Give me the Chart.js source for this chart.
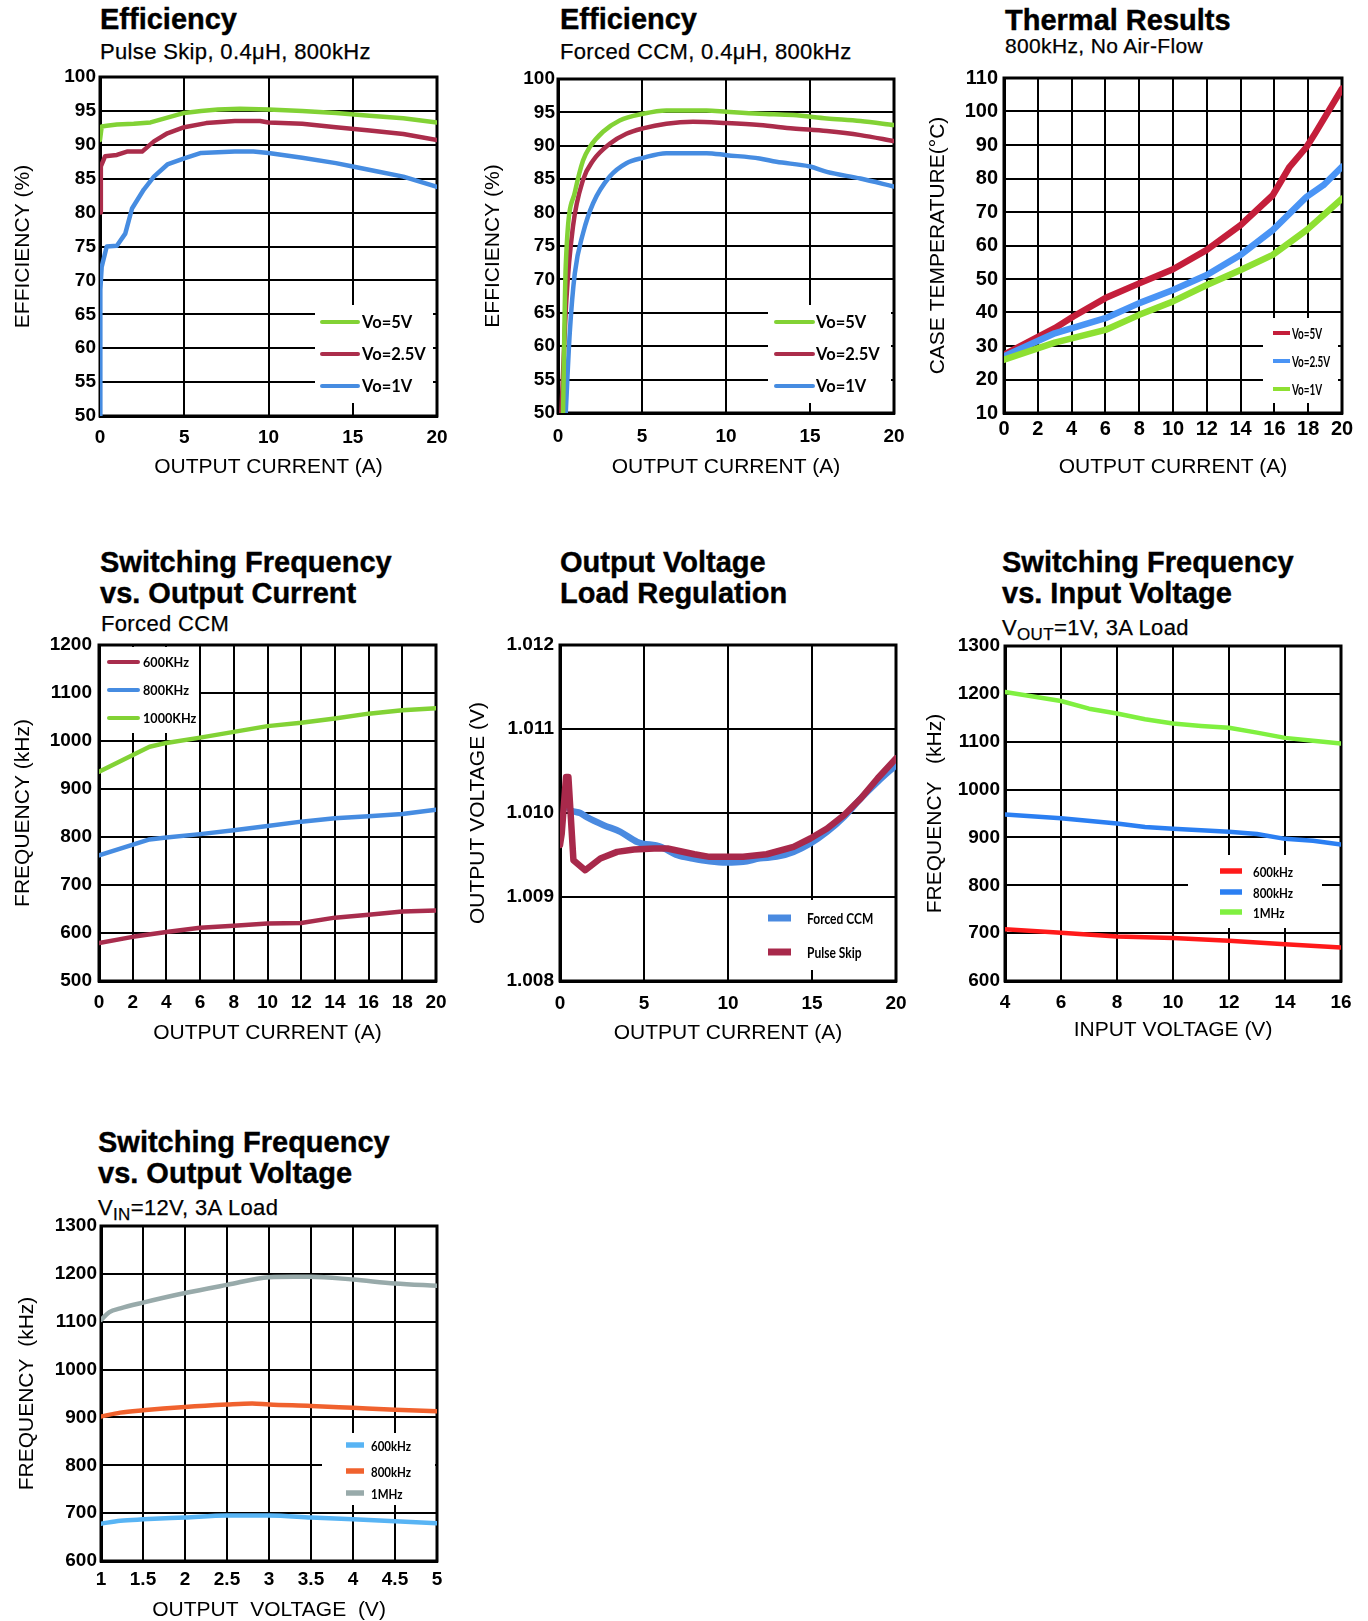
<!DOCTYPE html>
<html>
<head>
<meta charset="utf-8">
<script src="https://cdn.jsdelivr.net/npm/chart.js@4.4.1/dist/chart.umd.min.js"></script>
<style>
  html, body { margin: 0; padding: 0; background: #fff; }
  body { width: 1368px; height: 1621px; position: relative; overflow: hidden;
         font-family: "Liberation Sans", Arial, sans-serif; color: #000; }
  canvas { position: absolute; }
  .t { position: absolute; white-space: nowrap; line-height: 1; }
  .h { font-size: 29px; font-weight: bold; -webkit-text-stroke: 0.4px #000; }
  .s { font-size: 22px; letter-spacing: 0.35px; -webkit-text-stroke: 0.25px #000; }
  .sub { font-size: 17px; position: relative; top: 5px; }
</style>
</head>
<body>
<div class="t h" style="left:100px;top:4.5px">Efficiency</div>
<div class="t s" style="left:100px;top:41.4px">Pulse Skip, 0.4μH, 800kHz</div>
<div class="t h" style="left:560px;top:4.5px">Efficiency</div>
<div class="t s" style="left:560px;top:41.4px">Forced CCM, 0.4μH, 800kHz</div>
<div class="t h" style="left:1005px;top:5.5px">Thermal Results</div>
<div class="t s" style="left:1005px;top:35.2px;font-size:21px">800kHz, No Air-Flow</div>

<div class="t h" style="left:100px;top:547.5px">Switching Frequency</div>
<div class="t h" style="left:100px;top:578.5px">vs. Output Current</div>
<div class="t s" style="left:101px;top:613.4px">Forced CCM</div>
<div class="t h" style="left:560px;top:547.5px">Output Voltage</div>
<div class="t h" style="left:560px;top:578.5px">Load Regulation</div>
<div class="t h" style="left:1002px;top:547.5px">Switching Frequency</div>
<div class="t h" style="left:1002px;top:578.5px">vs. Input Voltage</div>
<div class="t s" style="left:1002px;top:617.4px">V<span class="sub">OUT</span>=1V, 3A Load</div>

<div class="t h" style="left:98px;top:1127.5px">Switching Frequency</div>
<div class="t h" style="left:98px;top:1158.5px">vs. Output Voltage</div>
<div class="t s" style="left:98px;top:1197.4px">V<span class="sub">IN</span>=12V, 3A Load</div>

<script>
// ---------- Efficiency, Pulse Skip (efficiency % vs output current A) ----------
const psXTicks = [0, 5, 10, 15, 20];
const psYTicks = [50, 55, 60, 65, 70, 75, 80, 85, 90, 95, 100];
const ps5V_x  = [0, 0.1, 0.4, 1, 2, 3, 4, 5, 6, 7, 8.3, 10, 12, 14, 16, 18, 20];
const ps5V_y  = [90.7, 92.7, 92.8, 93.0, 93.1, 93.3, 94.0, 94.7, 95.0, 95.2, 95.3, 95.2, 95.0, 94.7, 94.3, 93.9, 93.3];
const ps25V_x = [0, 0.05, 0.3, 1, 1.6, 2.5, 3.2, 4, 5, 6.3, 8, 9.5, 10, 12, 14, 16, 18, 20];
const ps25V_y = [80, 86.8, 88.3, 88.5, 89.0, 89.0, 90.5, 91.7, 92.6, 93.2, 93.5, 93.5, 93.3, 93.1, 92.6, 92.1, 91.6, 90.7];
const ps1V_x  = [0, 0.02, 0.1, 0.4, 1, 1.5, 1.9, 2.6, 3.2, 4, 5, 6, 8, 9.1, 10, 12, 14, 15, 16.4, 18, 20];
const ps1V_y  = [50, 68.6, 72, 75, 75.1, 76.9, 80.6, 83.4, 85.3, 87.1, 88.0, 88.8, 89.0, 89.0, 88.8, 88.1, 87.3, 86.8, 86.1, 85.3, 83.8];

// ---------- Efficiency, Forced CCM ----------
const fcXTicks = [0, 5, 10, 15, 20];
const fcYTicks = [50, 55, 60, 65, 70, 75, 80, 85, 90, 95, 100];
const fc5V_x  = [0.3, 0.46, 1.0, 1.49, 1.89, 2.68, 3.67, 5.06, 6.45, 8.84, 10.04, 12, 14, 16, 18, 20];
const fc5V_y  = [50, 72, 83, 87.8, 89.8, 92.1, 93.8, 94.8, 95.3, 95.3, 95.1, 94.8, 94.6, 94.1, 93.7, 93.1];
const fc25V_x = [0.2, 0.5, 0.89, 1.49, 2.09, 3.08, 4.07, 5.06, 6.45, 8.04, 10.04, 12, 14, 16, 18, 20];
const fc25V_y = [50, 67, 77.9, 84.9, 87.8, 90.3, 91.8, 92.6, 93.3, 93.6, 93.4, 93.1, 92.6, 92.2, 91.6, 90.7];
const fc1V_x  = [0.46, 0.7, 1.0, 1.49, 2.09, 3.08, 4.07, 5.06, 6.45, 8.84, 10.04, 12, 13, 15, 16, 18, 20];
const fc1V_y  = [50, 62, 70.9, 76.9, 81.4, 85.4, 87.4, 88.2, 88.9, 88.9, 88.6, 88.1, 87.6, 86.9, 86.1, 85.1, 83.9];

// ---------- Thermal results (case temperature °C vs output current A) ----------
const thXTicks = [0, 2, 4, 6, 8, 10, 12, 14, 16, 18, 20];
const thYTicks = [10, 20, 30, 40, 50, 60, 70, 80, 90, 100, 110];
const th5V_x  = [0, 3, 4.1, 6, 8, 10, 12, 14, 15.9, 16.9, 17.9, 18.4, 20];
const th5V_y  = [27.4, 35.3, 38.8, 44.3, 48.7, 52.9, 58.7, 66.1, 75.0, 83.5, 89.4, 93.4, 106.8];
const th25V_x = [0, 3, 6, 8, 10, 12, 14, 15.9, 17.9, 18.9, 20];
const th25V_y = [26.9, 33.8, 38.3, 42.8, 46.7, 51.2, 57.2, 64.6, 74.5, 78.0, 83.5];
const th1V_x  = [0, 3, 6, 8, 10, 12, 14, 15.9, 17.9, 20];
const th1V_y  = [25.9, 31.0, 34.8, 39.3, 43.3, 48.2, 52.7, 57.2, 64.6, 74.0];

// ---------- Switching frequency (kHz) vs output current (A) ----------
const fiXTicks = [0, 2, 4, 6, 8, 10, 12, 14, 16, 18, 20];
const fiYTicks = [500, 600, 700, 800, 900, 1000, 1100, 1200];
const fi600_x  = [0, 2, 4, 6, 8, 10, 12, 14, 16, 18, 20];
const fi600_y  = [579, 592, 602, 611, 615, 620, 621, 632, 638, 645, 647];
const fi800_x  = [0, 3, 4, 6, 8, 10, 12, 14, 16, 18, 20];
const fi800_y  = [762, 795, 799, 806, 814, 823, 832, 839, 843, 848, 857];
const fi1000_x = [0, 3, 4, 6, 8, 10, 12, 14, 16, 18, 20];
const fi1000_y = [936, 988, 996, 1007, 1019, 1031, 1038, 1047, 1057, 1064, 1068];

// ---------- Output voltage load regulation (V vs output current A) ----------
const lrXTicks = [0, 5, 10, 15, 20];
const lrYTicks = [1.008, 1.009, 1.010, 1.011, 1.012];
const lrCcm_x  = [0.3, 0.6, 1.2, 1.6, 2.6, 3.6, 4.6, 6, 7, 7.9, 8.9, 9.9, 10.9, 11.9, 12.9, 13.9, 14.9, 15.9, 16.9, 17.9, 18.9, 20];
const lrCcm_y  = [1.01012, 1.01004, 1.01000, 1.00995, 1.009855, 1.009776, 1.009656, 1.009597, 1.009497, 1.009458, 1.009425, 1.00941, 1.009418, 1.00946, 1.00948, 1.009537, 1.009637, 1.009776, 1.009954, 1.010173, 1.010371, 1.01057];
const lrPs_x   = [0, 0.1, 0.36, 0.5, 0.8, 1.5, 2.4, 3.4, 4.4, 5.6, 6.4, 8, 8.9, 10.9, 12.3, 13.9, 14.9, 15.9, 16.9, 17.9, 18.9, 20];
const lrPs_y   = [1.00962, 1.00975, 1.01043, 1.01043, 1.009438, 1.009319, 1.009458, 1.009537, 1.009565, 1.009577, 1.009577, 1.009509, 1.009478, 1.009478, 1.009509, 1.009597, 1.009696, 1.009815, 1.009974, 1.010173, 1.010411, 1.01065];

// ---------- Switching frequency (kHz) vs input voltage (V) ----------
const fvXTicks = [4, 6, 8, 10, 12, 14, 16];
const fvYTicks = [600, 700, 800, 900, 1000, 1100, 1200, 1300];
const fv1M_x   = [4, 6, 7, 8, 9, 10, 11, 12, 13, 14, 15, 16];
const fv1M_y   = [1204, 1185, 1169, 1159, 1147, 1138, 1133, 1129, 1119, 1108, 1102, 1096];
const fv800_x  = [4, 6, 8, 9, 10, 12, 13, 14, 15, 16];
const fv800_y  = [948, 940, 929, 922, 918, 912, 907, 897, 893, 885];
const fv600_x  = [4, 6, 8, 10, 12, 14, 16];
const fv600_y  = [708, 701, 693, 690, 684, 677, 670];

// ---------- Switching frequency (kHz) vs output voltage (V) ----------
const foXTicks = [1, 1.5, 2, 2.5, 3, 3.5, 4, 4.5, 5];
const foYTicks = [600, 700, 800, 900, 1000, 1100, 1200, 1300];
const fo1M_x   = [1, 1.1, 1.23, 1.5, 2, 2.5, 3, 3.3, 3.5, 4, 4.5, 5];
const fo1M_y   = [1104, 1120, 1128, 1140, 1160, 1177, 1193, 1194, 1194, 1188, 1180, 1175];
const fo800_x  = [1, 1.23, 1.5, 2, 2.5, 2.8, 3, 3.5, 4, 4.5, 5];
const fo800_y  = [902, 910, 915, 922, 927, 929, 927, 924, 920, 916, 913];
const fo600_x  = [1, 1.23, 1.5, 2, 2.5, 3, 3.5, 4, 4.5, 5];
const fo600_y  = [678, 684, 687, 691, 695, 695, 691, 687, 683, 679];

// ================= drawing helpers =================
const FONT = '"Liberation Sans", Arial, sans-serif';
const KEYFONT = 'Lato, "Open Sans", sans-serif';

function series(label, xs, ys, color, width, extra) {
  return Object.assign({
    label,
    data: xs.map((x, i) => ({ x, y: ys[i] })),
    borderColor: color, backgroundColor: color, borderWidth: width,
    pointRadius: 0, tension: 0, fill: false,
    borderCapStyle: 'round', borderJoinStyle: 'round'
  }, extra || {});
}

function axis(horizontal, o) {
  return {
    type: 'linear',
    min: o.ticks[0], max: o.ticks[o.ticks.length - 1],
    afterBuildTicks: s => { s.ticks = o.ticks.map(v => ({ value: v })); },
    afterFit: s => { if (horizontal) s.height = 70; else s.width = 100; },
    ticks: {
      autoSkip: false, maxRotation: 0, minRotation: 0, padding: o.tickPad, color: '#000',
      font: { family: FONT, size: o.tickSize || 19, weight: 'bold' },
      callback: v => (o.fmt ? o.fmt(v) : String(v))
    },
    grid: { color: '#000', lineWidth: 2, drawTicks: false },
    border: { color: '#000', width: 3 },
    title: {
      display: true, text: o.title, color: '#000',
      font: { family: FONT, size: 21 },
      padding: horizontal ? { top: 0, bottom: o.titlePad } : { top: o.titlePad, bottom: 0 }
    }
  };
}

// Plot frame plus an in-plot key on a white patch
const frameKey = {
  id: 'frameKey',
  beforeDatasetsDraw(chart, args, opts) {
    const { ctx, chartArea: a } = chart;
    ctx.save();
    ctx.strokeStyle = '#000';
    ctx.lineWidth = 3;
    ctx.strokeRect(a.left, a.top, a.right - a.left, a.bottom - a.top);
    const k = opts.key;
    if (k) {
      ctx.fillStyle = '#fff';
      ctx.fillRect(a.left + k.box[0], a.top + k.box[1], k.box[2] - k.box[0], k.box[3] - k.box[1]);
      k.order.forEach((di, r) => {
        const ds = chart.data.datasets[di];
        const y = a.top + k.rows[r];
        ctx.strokeStyle = ds.borderColor;
        ctx.lineWidth = k.lw;
        ctx.lineCap = k.cap;
        ctx.beginPath();
        ctx.moveTo(a.left + k.line[0], y);
        ctx.lineTo(a.left + k.line[1], y);
        ctx.stroke();
        ctx.fillStyle = '#000';
        ctx.font = 'bold ' + k.size + 'px ' + KEYFONT;
        ctx.textBaseline = 'middle';
        ctx.textAlign = 'left';
        ctx.save();
        ctx.translate(a.left + k.textX, y + 1);
        ctx.scale(k.sx, 1);
        ctx.fillText(ds.label, 0, 0);
        ctx.restore();
      });
    }
    ctx.restore();
  }
};

function build(g, datasets, xo, yo, key) {
  const c = document.createElement('canvas');
  const w = g.R - g.L + 140, h = g.B - g.T + 90;
  c.width = w; c.height = h;
  c.style.width = w + 'px'; c.style.height = h + 'px';
  c.style.left = (g.L - 100) + 'px'; c.style.top = (g.T - 20) + 'px';
  document.body.appendChild(c);
  new Chart(c, {
    type: 'line',
    data: { datasets },
    options: {
      responsive: false, animation: false, devicePixelRatio: 1, events: [],
      layout: { padding: { left: 0, top: 20, right: 40, bottom: 0 } },
      plugins: { legend: { display: false }, tooltip: { enabled: false }, frameKey: { key } },
      scales: { x: axis(true, xo), y: axis(false, yo) }
    },
    plugins: [frameKey]
  });
}

// ================= charts =================
const GREEN = '#82d235', CRIMSON = '#ab2d4b', BLUE = '#468ce1';

build({ L: 100, T: 77, R: 437, B: 416 },
  [series('Vo=5V', ps5V_x, ps5V_y, GREEN, 4.5),
   series('Vo=2.5V', ps25V_x, ps25V_y, CRIMSON, 4.5),
   series('Vo=1V', ps1V_x, ps1V_y, BLUE, 4.5)],
  { ticks: psXTicks, tickPad: 10, title: 'OUTPUT CURRENT (A)', titlePad: 6.4 },
  { ticks: psYTicks, tickPad: 4, title: 'EFFICIENCY (%)', titlePad: 10.4 },
  { box: [215, 228, 333, 326], rows: [245, 277, 309], line: [222, 258], lw: 4, cap: 'round', textX: 262, size: 16.5, sx: 1, order: [0, 1, 2] });

build({ L: 558, T: 79, R: 894, B: 413 },
  [series('Vo=5V', fc5V_x, fc5V_y, GREEN, 4.5, { cubicInterpolationMode: 'monotone' }),
   series('Vo=2.5V', fc25V_x, fc25V_y, CRIMSON, 4.5, { cubicInterpolationMode: 'monotone' }),
   series('Vo=1V', fc1V_x, fc1V_y, BLUE, 4.5, { cubicInterpolationMode: 'monotone' })],
  { ticks: fcXTicks, tickPad: 12, title: 'OUTPUT CURRENT (A)', titlePad: 3.4 },
  { ticks: fcYTicks, tickPad: 3, title: 'EFFICIENCY (%)', titlePad: 22.4 },
  { box: [210, 226, 333, 324], rows: [243, 275, 307], line: [218, 255], lw: 4, cap: 'round', textX: 258, size: 16.5, sx: 1, order: [0, 1, 2] });

build({ L: 1004, T: 78, R: 1342, B: 413 },
  [series('Vo=5V', th5V_x, th5V_y, '#c41e3a', 6.5, { order: 2 }),
   series('Vo=2.5V', th25V_x, th25V_y, '#4a94f5', 6.5, { order: 1 }),
   series('Vo=1V', th1V_x, th1V_y, '#8ee032', 6.5, { order: 0 })],
  { ticks: thXTicks, tickPad: 4, tickSize: 20, title: 'OUTPUT CURRENT (A)', titlePad: 3.4 },
  { ticks: thYTicks, tickPad: 6, tickSize: 20, title: 'CASE TEMPERATURE(°C)', titlePad: 21.4 },
  { box: [259, 240, 334, 325], rows: [255, 283, 311], line: [269, 286], lw: 4, cap: 'butt', textX: 288, size: 15, sx: 0.66, order: [0, 1, 2] });

build({ L: 99, T: 645, R: 436, B: 981 },
  [series('600KHz', fi600_x, fi600_y, '#a82d4d', 4.5),
   series('800KHz', fi800_x, fi800_y, BLUE, 4.5),
   series('1000KHz', fi1000_x, fi1000_y, GREEN, 4.5)],
  { ticks: fiXTicks, tickPad: 10, title: 'OUTPUT CURRENT (A)', titlePad: 5.4 },
  { ticks: fiYTicks, tickPad: 7, title: 'FREQUENCY (kHz)', titlePad: 11.4 },
  { box: [2, 2, 100, 88], rows: [17, 45, 73], line: [10, 39], lw: 4, cap: 'round', textX: 44, size: 13, sx: 0.97, order: [0, 1, 2] });

build({ L: 560, T: 645, R: 896, B: 981 },
  [series('Forced CCM', lrCcm_x, lrCcm_y, '#4a8ae0', 6.5, { order: 1, cubicInterpolationMode: 'monotone' }),
   series('Pulse Skip', lrPs_x, lrPs_y, '#a8294b', 6.5, { order: 0 })],
  { ticks: lrXTicks, tickPad: 11, title: 'OUTPUT CURRENT (A)', titlePad: 5.4 },
  { ticks: lrYTicks, tickPad: 6, title: 'OUTPUT VOLTAGE (V)', titlePad: 5.4, fmt: v => v.toFixed(3) },
  { box: [200, 255, 334, 325], rows: [273, 307], line: [208, 231], lw: 7, cap: 'butt', textX: 247, size: 16, sx: 0.75, order: [0, 1] });

build({ L: 1005, T: 646, R: 1341, B: 981 },
  [series('600kHz', fv600_x, fv600_y, '#ff1a1a', 4.5),
   series('800kHz', fv800_x, fv800_y, '#2b7ff2', 4.5),
   series('1MHz', fv1M_x, fv1M_y, '#80f040', 4.5)],
  { ticks: fvXTicks, tickPad: 10, title: 'INPUT VOLTAGE (V)', titlePad: 8.4 },
  { ticks: fvYTicks, tickPad: 5, title: 'FREQUENCY   (kHz)', titlePad: 17.4 },
  { box: [183, 209, 317, 282], rows: [225, 246, 266], line: [215, 237], lw: 5.5, cap: 'butt', textX: 248, size: 14, sx: 0.82, order: [0, 1, 2] });

build({ L: 101, T: 1226, R: 437, B: 1561 },
  [series('600kHz', fo600_x, fo600_y, '#58b4f4', 4.5, { cubicInterpolationMode: 'monotone' }),
   series('800kHz', fo800_x, fo800_y, '#f0622e', 4.5, { cubicInterpolationMode: 'monotone' }),
   series('1MHz', fo1M_x, fo1M_y, '#98aaaa', 4.5, { cubicInterpolationMode: 'monotone' })],
  { ticks: foXTicks, tickPad: 7, title: 'OUTPUT  VOLTAGE  (V)', titlePad: 8.4 },
  { ticks: foYTicks, tickPad: 4, title: 'FREQUENCY  (kHz)', titlePad: 13.4 },
  { box: [221, 207, 334, 279], rows: [219, 245, 267], line: [245, 263], lw: 5.5, cap: 'butt', textX: 270, size: 14, sx: 0.82, order: [0, 1, 2] });
</script>
</body>
</html>
